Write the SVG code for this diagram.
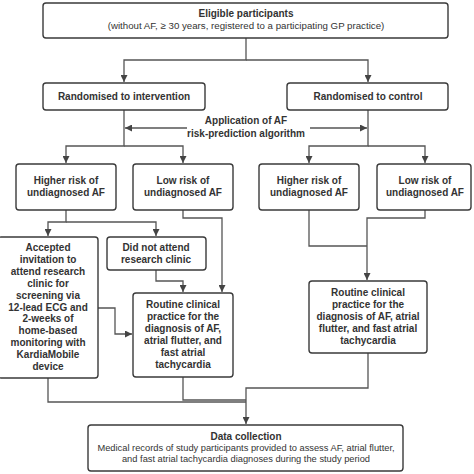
<svg xmlns="http://www.w3.org/2000/svg" width="474" height="474" viewBox="0 0 474 474">
<style>
.box{fill:#fff;stroke:#3a3a3a;stroke-width:1.4}
.b{font-family:"Liberation Sans",Arial,sans-serif;font-weight:bold;font-size:10px;fill:#333;text-anchor:middle}
.r{font-family:"Liberation Sans",Arial,sans-serif;font-size:9.3px;fill:#333;text-anchor:middle}
.r2{font-size:9.7px}
.c{fill:none;stroke:#555;stroke-width:1.3}
</style>
<defs>
<marker id="ah" viewBox="0 0 10 10" refX="10" refY="5" markerWidth="7" markerHeight="7" orient="auto" markerUnits="userSpaceOnUse">
<path d="M0,0 L10,5 L0,10 z" fill="#444"/>
</marker>
</defs>
<rect width="474" height="474" fill="#fff"/>
<g id="connectors">
<path class="c" d="M246,38 V60 H124 V82" marker-end="url(#ah)"/>
<path class="c" d="M246,60 H368 V82" marker-end="url(#ah)"/>
<path class="c" d="M124,110 V146 H66 V163" marker-end="url(#ah)"/>
<path class="c" d="M124,146 H183 V163" marker-end="url(#ah)"/>
<path class="c" d="M368,110 V146 H309 V163" marker-end="url(#ah)"/>
<path class="c" d="M368,146 H425 V163" marker-end="url(#ah)"/>
<path class="c" d="M187,128 H125" marker-end="url(#ah)"/>
<path class="c" d="M310,128 H367" marker-end="url(#ah)"/>
<path class="c" d="M66,210 V222 H48 V236" marker-end="url(#ah)"/>
<path class="c" d="M66,222 H156 V236" marker-end="url(#ah)"/>
<path class="c" d="M183,210 V218 H222 V292" marker-end="url(#ah)"/>
<path class="c" d="M156,270 V281 H183 V292" marker-end="url(#ah)"/>
<path class="c" d="M98,308 H115 V334 H132" marker-end="url(#ah)"/>
<path class="c" d="M309,210 V246 H367"/>
<path class="c" d="M425,210 V218 H367 V280" marker-end="url(#ah)"/>
<path class="c" d="M48,378 V402 H246"/>
<path class="c" d="M183,377 V400 H246"/>
<path class="c" d="M368,353 V388 H246 V424" marker-end="url(#ah)"/>
</g>
<g id="eligible">
<rect class="box" x="43" y="3" width="405" height="35" rx="3"/>
<text class="b" x="246" y="17">Eligible participants</text>
<text class="r r2" x="246" y="29">(without AF, ≥ 30 years, registered to a participating GP practice)</text>
</g>
<g id="rand-int">
<rect class="box" x="43" y="83" width="162" height="27" rx="3"/>
<text class="b" x="124" y="99.5">Randomised to intervention</text>
</g>
<g id="rand-ctrl">
<rect class="box" x="287" y="83" width="161" height="27" rx="3"/>
<text class="b" x="368" y="99.5">Randomised to control</text>
</g>
<g id="algorithm">
<text class="b" x="246" y="124">Application of AF</text>
<text class="b" x="246" y="137">risk-prediction algorithm</text>
</g>
<g id="high-int">
<rect class="box" x="16" y="164" width="100" height="46" rx="3"/>
<text class="b" x="66" y="183.5">Higher risk of</text>
<text class="b" x="66" y="195.5">undiagnosed AF</text>
</g>
<g id="low-int">
<rect class="box" x="133" y="164" width="100" height="46" rx="3"/>
<text class="b" x="183" y="183.5">Low risk of</text>
<text class="b" x="183" y="195.5">undiagnosed AF</text>
</g>
<g id="high-ctrl">
<rect class="box" x="259" y="164" width="100" height="46" rx="3"/>
<text class="b" x="309" y="183.5">Higher risk of</text>
<text class="b" x="309" y="195.5">undiagnosed AF</text>
</g>
<g id="low-ctrl">
<rect class="box" x="377" y="164" width="94" height="46" rx="3"/>
<text class="b" x="425" y="183.5">Low risk of</text>
<text class="b" x="425" y="195.5">undiagnosed AF</text>
</g>
<g id="accepted">
<rect class="box" x="-2" y="237" width="100" height="141" rx="3"/>
<text class="b" x="48" y="250.5">Accepted</text>
<text class="b" x="48" y="262.5">invitation to</text>
<text class="b" x="48" y="274.5">attend research</text>
<text class="b" x="48" y="286.5">clinic for</text>
<text class="b" x="48" y="298.5">screening via</text>
<text class="b" x="48" y="310.5">12-lead ECG and</text>
<text class="b" x="48" y="322">2-weeks of</text>
<text class="b" x="48" y="334">home-based</text>
<text class="b" x="48" y="346">monitoring with</text>
<text class="b" x="48" y="358">KardiaMobile</text>
<text class="b" x="48" y="370">device</text>
</g>
<g id="did-not-attend">
<rect class="box" x="107" y="237" width="99" height="33" rx="3"/>
<text class="b" x="156" y="250.5">Did not attend</text>
<text class="b" x="156" y="262.5">research clinic</text>
</g>
<g id="routine-int">
<rect class="box" x="133" y="293" width="100" height="84" rx="3"/>
<text class="b" x="183" y="307.5">Routine clinical</text>
<text class="b" x="183" y="319.5">practice for the</text>
<text class="b" x="183" y="331.5">diagnosis of AF,</text>
<text class="b" x="183" y="343.5">atrial flutter, and</text>
<text class="b" x="183" y="355.5">fast atrial</text>
<text class="b" x="183" y="367.5">tachycardia</text>
</g>
<g id="routine-ctrl">
<rect class="box" x="309" y="281" width="118" height="72" rx="3"/>
<text class="b" x="368" y="295.5">Routine clinical</text>
<text class="b" x="368" y="307.5">practice for the</text>
<text class="b" x="368" y="319.5">diagnosis of AF, atrial</text>
<text class="b" x="368" y="331.5">flutter, and fast atrial</text>
<text class="b" x="368" y="343.5">tachycardia</text>
</g>
<g id="data">
<rect class="box" x="88" y="425" width="315" height="46" rx="3"/>
<text class="b" x="246" y="439.5">Data collection</text>
<text class="r" x="246" y="450.5">Medical records of study participants provided to assess AF, atrial flutter,</text>
<text class="r" x="246" y="461.5">and fast atrial tachycardia diagnoses during the study period</text>
</g>
</svg>
